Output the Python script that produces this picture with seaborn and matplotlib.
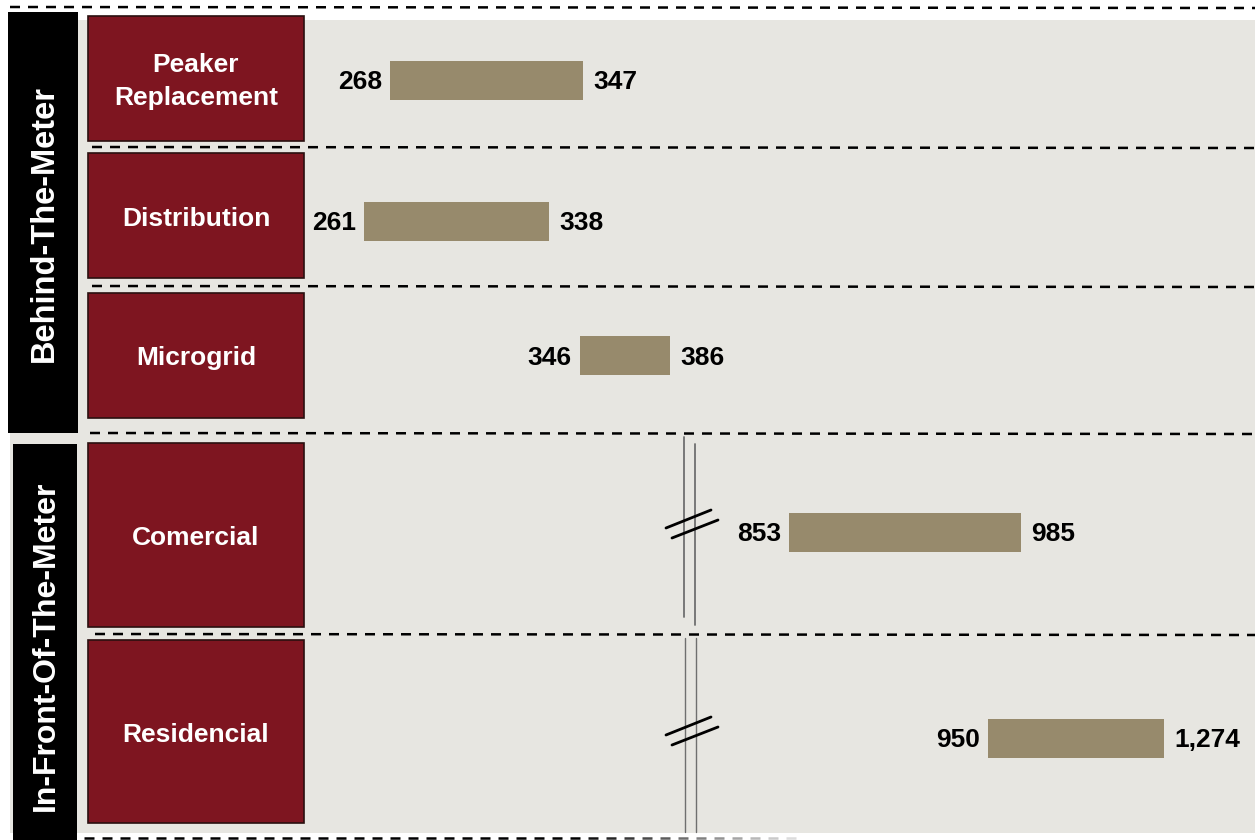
import numpy as np
import pandas as pd
import matplotlib
matplotlib.use("Agg")
import matplotlib.pyplot as plt
from matplotlib.patches import Rectangle
from matplotlib.collections import LineCollection
import seaborn as sns

# ---- data -------------------------------------------------------------
segments = ["Peaker\nReplacement", "Distribution", "Microgrid", "Comercial", "Residencial"]
groups = ["Behind-The-Meter", "In-Front-Of-The-Meter"]
low_values = [268, 261, 346, 853, 950]
high_values = [347, 338, 386, 985, 1274]

# ---- layout (pixel units of a 1255 x 840 canvas) ----------------------
W, H = 1255, 840
row_box_top = [16, 153, 293, 443, 640]
row_box_bottom = [141, 278, 418, 627, 823]
row_bar_center = [80, 221, 356, 532, 738]
# each row has its own value window (the lower rows sit behind an axis break)
row_xlim = [(233.2, 622.1), (236.4, 631.8), (223.8, 646.0), (577.6, 1118.1), (-307.4, 1441.5)]
plot_left, plot_right = 305, 1255
row_axes_height = 100
bar_thickness = 0.39

RED = "#7E1520"
BAR = "#978A6C"
PANEL = "#E7E6E1"

sns.set_theme(style="white")
plt.rcParams["font.family"] = ["Liberation Sans", "DejaVu Sans"]
plt.rcParams["font.weight"] = "bold"

df = pd.DataFrame({"segment": segments, "low": low_values, "high": high_values})
df["span"] = df["high"] - df["low"]

fig = plt.figure(figsize=(W / 100, H / 100), dpi=100)
fig.patch.set_facecolor("white")

# background axes in pixel coordinates for the frame elements
bg = fig.add_axes([0, 0, 1, 1])
bg.set_xlim(0, W)
bg.set_ylim(H, 0)
bg.axis("off")

bg.add_patch(Rectangle((10, 20), W - 10, 813, facecolor=PANEL, edgecolor="none", zorder=0))

# group bands
bg.add_patch(Rectangle((8, 12), 70, 421, facecolor="black", edgecolor="none", zorder=2))
bg.add_patch(Rectangle((13, 444), 64, 396, facecolor="black", edgecolor="none", zorder=2))
bg.text(44, 224, groups[0], rotation=90, color="white", fontsize=23.5, fontweight="bold",
        ha="center", va="center", zorder=3)
bg.text(46, 646, groups[1], rotation=90, color="white", fontsize=23, fontweight="bold",
        ha="center", va="center", zorder=3)

# category boxes
for name, top, bottom in zip(segments, row_box_top, row_box_bottom):
    bg.add_patch(Rectangle((88, top), 216, bottom - top, facecolor=RED,
                           edgecolor="#2a1010", linewidth=1.2, zorder=2))
    bg.text(196, (top + bottom) / 2 + 3, name, color="white", fontsize=19, fontweight="bold",
            ha="center", va="center", linespacing=1.45, zorder=3)

# dashed separators
dash_style = (0, (4.0, 3.2))
bg.plot([10, W], [7, 8], color="black", lw=1.8, linestyle=dash_style, zorder=1)
for y, x0 in [(147, 92), (286, 92), (433, 90), (634, 95)]:
    bg.plot([x0, W], [y, y + 1], color="black", lw=1.8, linestyle=dash_style, zorder=1)

# bottom rule fading out to the right
segs, cols = [], []
for x in np.arange(84, 790, 18):
    fade = np.clip((x - 570) / 220, 0, 1)
    g = fade * 0.88
    segs.append([(x, 838), (x + 10, 838)])
    cols.append((g, g, g, 1.0))
bg.add_collection(LineCollection(segs, colors=cols, linewidths=1.8, zorder=1))

# axis-break marks
brk = "#6f6f6f"
bg.plot([684, 684], [437, 617], color=brk, lw=1.3, zorder=1)
bg.plot([694.5, 694.5], [444, 625], color=brk, lw=1.3, zorder=1)
bg.plot([685, 685], [638, 832], color=brk, lw=1.0, zorder=1)
bg.plot([696, 696], [638, 832], color=brk, lw=1.0, zorder=1)
for yc in (519, 726):
    bg.plot([666, 711], [yc + 9, yc - 9], color="black", lw=2.0, zorder=1)
    bg.plot([672, 718], [yc + 19, yc + 1], color="black", lw=2.0, zorder=1)

# ---- floating bars, one row axes per category ----------------------------
for i, row in df.iterrows():
    c = row_bar_center[i]
    ax = fig.add_axes([plot_left / W, (H - c - row_axes_height / 2) / H,
                       (plot_right - plot_left) / W, row_axes_height / H])
    ax.patch.set_alpha(0)
    sns.barplot(data=df.iloc[[i]], x="span", y="segment", left=row["low"],
                width=bar_thickness, color=BAR, saturation=1, ax=ax, zorder=2,
                edgecolor="none", linewidth=0)
    ax.set_xlim(*row_xlim[i])
    ax.set_ylim(0.5, -0.5)
    ax.axis("off")
    ax.annotate(f"{row['low']:,}", xy=(row["low"], 0), xytext=(-8, -2),
                textcoords="offset pixels", ha="right", va="center",
                fontsize=19, fontweight="bold", color="black")
    ax.annotate(f"{row['high']:,}", xy=(row["high"], 0), xytext=(10, -2),
                textcoords="offset pixels", ha="left", va="center",
                fontsize=19, fontweight="bold", color="black")

fig.savefig("out.png", dpi=100, facecolor="white")
